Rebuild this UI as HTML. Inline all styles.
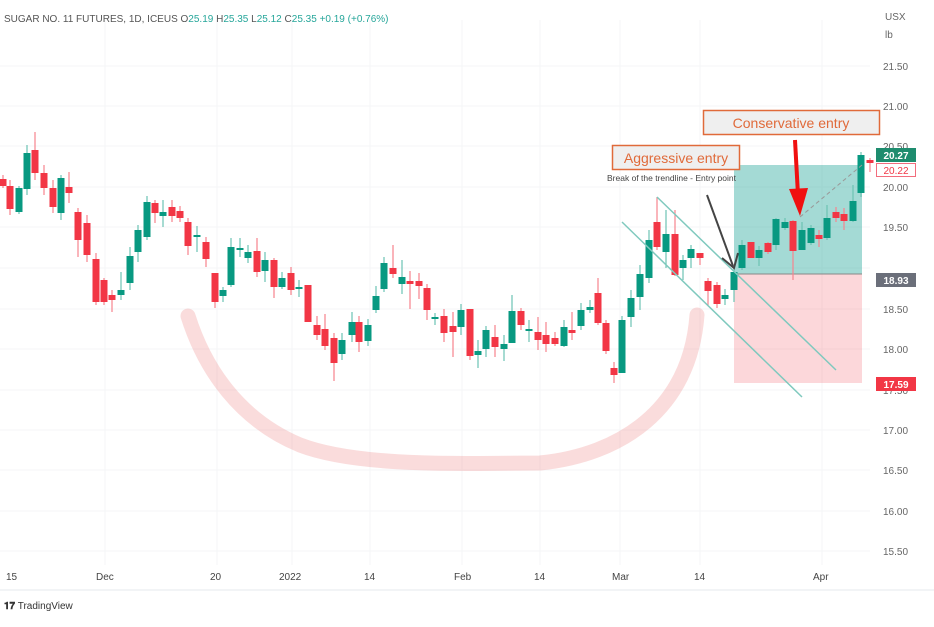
<!DOCTYPE html>
<html><head><meta charset="utf-8"><style>
html,body{margin:0;padding:0;background:#fff;}
body{width:934px;height:622px;overflow:hidden;font-family:"Liberation Sans",sans-serif;}
</style></head><body>
<svg id="s" width="934" height="622" viewBox="0 0 934 622" xmlns="http://www.w3.org/2000/svg" font-family="Liberation Sans, sans-serif">
<rect width="934" height="622" fill="#fff"/>
<g stroke="#f4f5f7" stroke-width="1">
<line x1="0" y1="66" x2="870" y2="66"/><line x1="0" y1="106" x2="870" y2="106"/><line x1="0" y1="146" x2="870" y2="146"/><line x1="0" y1="187" x2="870" y2="187"/><line x1="0" y1="227" x2="870" y2="227"/><line x1="0" y1="268" x2="870" y2="268"/><line x1="0" y1="309" x2="870" y2="309"/><line x1="0" y1="349" x2="870" y2="349"/><line x1="0" y1="390" x2="870" y2="390"/><line x1="0" y1="430" x2="870" y2="430"/><line x1="0" y1="470" x2="870" y2="470"/><line x1="0" y1="511" x2="870" y2="511"/><line x1="0" y1="551" x2="870" y2="551"/>
<line x1="105" y1="20" x2="105" y2="565"/><line x1="217" y1="20" x2="217" y2="565"/><line x1="292" y1="20" x2="292" y2="565"/><line x1="370" y1="20" x2="370" y2="565"/><line x1="462" y1="20" x2="462" y2="565"/><line x1="540" y1="20" x2="540" y2="565"/><line x1="620" y1="20" x2="620" y2="565"/><line x1="700" y1="20" x2="700" y2="565"/><line x1="822" y1="20" x2="822" y2="565"/>
<line x1="0" y1="590" x2="934" y2="590" stroke="#e6e8ec"/>
</g>
<text x="4" y="22" font-size="10" fill="#555">SUGAR NO. 11 FUTURES, 1D, ICEUS <tspan fill="#555">O</tspan><tspan fill="#26a69a">25.19</tspan> <tspan fill="#555">H</tspan><tspan fill="#26a69a">25.35</tspan> <tspan fill="#555">L</tspan><tspan fill="#26a69a">25.12</tspan> <tspan fill="#555">C</tspan><tspan fill="#26a69a">25.35 +0.19 (+0.76%)</tspan></text>
<g font-size="10" fill="#666">
<text x="885" y="20">USX</text><text x="885" y="38">lb</text>
<text x="883" y="70">21.50</text><text x="883" y="110">21.00</text><text x="883" y="150">20.50</text><text x="883" y="191">20.00</text><text x="883" y="231">19.50</text><text x="883" y="313">18.50</text><text x="883" y="353">18.00</text><text x="883" y="394">17.50</text><text x="883" y="434">17.00</text><text x="883" y="474">16.50</text><text x="883" y="515">16.00</text><text x="883" y="555">15.50</text>
</g>
<g font-size="10" fill="#444">
<text x="6" y="580">15</text><text x="96" y="580">Dec</text><text x="210" y="580">20</text><text x="279" y="580">2022</text><text x="364" y="580">14</text><text x="454" y="580">Feb</text><text x="534" y="580">14</text><text x="612" y="580">Mar</text><text x="694" y="580">14</text><text x="813" y="580">Apr</text>
</g>
<text x="4" y="609" font-size="10" fill="#333"><tspan font-weight="bold">𝟏𝟕</tspan> TradingView</text>
<path d="M188 316 C205 370 240 420 300 445 C360 468 470 463 540 463 C620 455 690 410 697 315" fill="none" stroke="rgba(240,140,140,0.3)" stroke-width="15" stroke-linecap="round"/>
<rect x="734" y="165" width="128" height="109" fill="rgba(38,166,154,0.42)"/>
<rect x="734" y="274" width="128" height="109" fill="rgba(242,54,69,0.2)"/>
<line x1="734" y1="274" x2="862" y2="274" stroke="#888" stroke-width="1"/>
<g id="c"></g>
<line x1="657" y1="197" x2="836" y2="370" stroke="#7fc9be" stroke-width="1.5"/>
<line x1="622" y1="222" x2="802" y2="397" stroke="#7fc9be" stroke-width="1.5"/>
<line x1="800" y1="217" x2="862" y2="165" stroke="#999" stroke-dasharray="4,3"/>
<line x1="707" y1="195" x2="733" y2="266" stroke="#444" stroke-width="2"/>
<path d="M722 258 L734 268 L738 253" fill="none" stroke="#444" stroke-width="2"/>
<line x1="795" y1="140" x2="798" y2="195" stroke="#f01010" stroke-width="4"/>
<polygon points="789,189 808,188 800,216" fill="#f01010"/>
<rect x="703.5" y="110.5" width="176" height="24" fill="#efefef" stroke="#e06a3a" stroke-width="1.5"/>
<text x="791" y="128" font-size="14" fill="#e06a3a" text-anchor="middle">Conservative entry</text>
<rect x="612.5" y="145.5" width="127" height="24" fill="#efefef" stroke="#e06a3a" stroke-width="1.5"/>
<text x="676" y="163" font-size="14" fill="#e06a3a" text-anchor="middle">Aggressive entry</text>
<text x="607" y="181" font-size="8.5" fill="#444">Break of the trendline - Entry point</text>
<rect x="876" y="148" width="40" height="14" fill="#1e8c6e"/><text x="896" y="159" font-size="10" fill="#fff" text-anchor="middle" font-weight="bold">20.27</text>
<rect x="876.5" y="163.5" width="39" height="13" fill="#fff" stroke="#f26d7d"/><text x="896" y="174" font-size="10" fill="#f23645" text-anchor="middle">20.22</text>
<rect x="876" y="273" width="40" height="14" fill="#6b6f7a"/><text x="896" y="284" font-size="10" fill="#fff" text-anchor="middle" font-weight="bold">18.93</text>
<rect x="876" y="377" width="40" height="14" fill="#f23645"/><text x="896" y="388" font-size="10" fill="#fff" text-anchor="middle" font-weight="bold">17.59</text>
</svg>
<script>
var d=[[3,179,186,175,188,0],[10,186,209,180,215,0],[19,188,212,186,214,1],[27,153,189,145,195,1],[35,150,173,132,180,0],[44,173,188,165,195,0],[53,188,207,180,213,0],[61,178,213,175,220,1],[69,187,193,172,203,0],[78,212,240,208,257,0],[87,223,255,215,262,0],[96,259,302,253,305,0],[104,280,302,278,305,0],[112,295,300,290,312,0],[121,290,295,272,300,1],[130,256,283,247,290,1],[138,230,252,225,262,1],[147,202,237,196,240,1],[155,203,213,200,223,0],[163,212,216,200,227,1],[172,207,216,200,222,0],[180,211,218,206,222,0],[188,222,246,218,255,0],[197,235,237,226,252,1],[206,242,259,237,267,0],[215,273,302,273,308,0],[223,290,296,287,302,1],[231,247,285,238,287,1],[240,248,250,238,257,1],[248,252,258,245,263,1],[257,251,272,238,277,0],[265,260,271,252,282,1],[274,260,287,258,298,0],[282,278,287,272,289,1],[291,273,290,267,295,0],[299,287,289,280,297,1],[308,285,322,285,322,0],[317,325,335,316,340,0],[325,329,346,314,350,0],[334,338,363,333,381,0],[342,340,354,333,360,1],[352,322,335,312,342,1],[359,322,342,316,352,0],[368,325,341,319,346,1],[376,296,310,286,313,1],[384,263,289,257,292,1],[393,268,274,245,278,0],[402,277,284,260,294,1],[410,281,284,271,309,0],[419,281,286,273,299,0],[427,288,310,284,320,0],[435,317,319,313,325,1],[444,316,333,309,342,0],[453,326,332,312,357,0],[461,310,327,304,335,1],[470,309,356,309,360,0],[478,351,355,340,368,1],[486,330,349,326,357,1],[495,337,347,325,357,0],[504,344,349,335,361,1],[512,311,343,295,343,1],[521,311,325,308,330,0],[529,329,331,320,342,1],[538,332,340,317,350,0],[546,335,344,322,352,0],[555,338,344,332,346,0],[564,327,346,320,347,1],[572,330,333,312,340,0],[581,310,326,303,330,1],[590,307,310,300,313,1],[598,293,323,278,325,0],[606,323,351,320,354,0],[614,368,375,362,383,0],[622,320,373,316,373,1],[631,298,317,290,327,1],[640,274,297,265,310,1],[649,240,278,230,283,1],[657,222,247,197,250,0],[666,234,252,210,268,1],[675,234,275,210,276,0],[683,260,268,255,280,1],[691,249,258,245,268,1],[700,253,258,253,265,0],[708,281,291,278,305,0],[717,285,304,282,308,0],[725,295,299,289,305,1],[734,272,290,268,302,1],[742,245,268,240,270,1],[751,242,258,242,258,0],[759,250,258,246,266,1],[768,243,252,242,254,0],[776,219,245,218,250,1],[785,222,228,218,230,1],[793,221,251,220,280,0],[802,230,250,222,250,1],[811,228,243,225,245,1],[819,235,239,230,247,0],[827,218,238,205,240,1],[836,212,218,207,222,0],[844,214,221,208,230,0],[853,201,221,185,222,1],[861,155,193,152,197,1],[870,160,163,158,172,0]];
var g=document.getElementById('c'),h='';
d.forEach(function(c){var col=c[5]?'#089981':'#f23645',wc=c[5]?'#6cc3b3':'#f7838d';
h+='<line x1="'+c[0]+'" y1="'+c[3]+'" x2="'+c[0]+'" y2="'+c[4]+'" stroke="'+wc+'" stroke-width="1.2"/>';
h+='<rect x="'+(c[0]-3.5)+'" y="'+c[1]+'" width="7" height="'+Math.max(2,c[2]-c[1])+'" fill="'+col+'"/>';});
g.innerHTML=h;
</script>
</body></html>
